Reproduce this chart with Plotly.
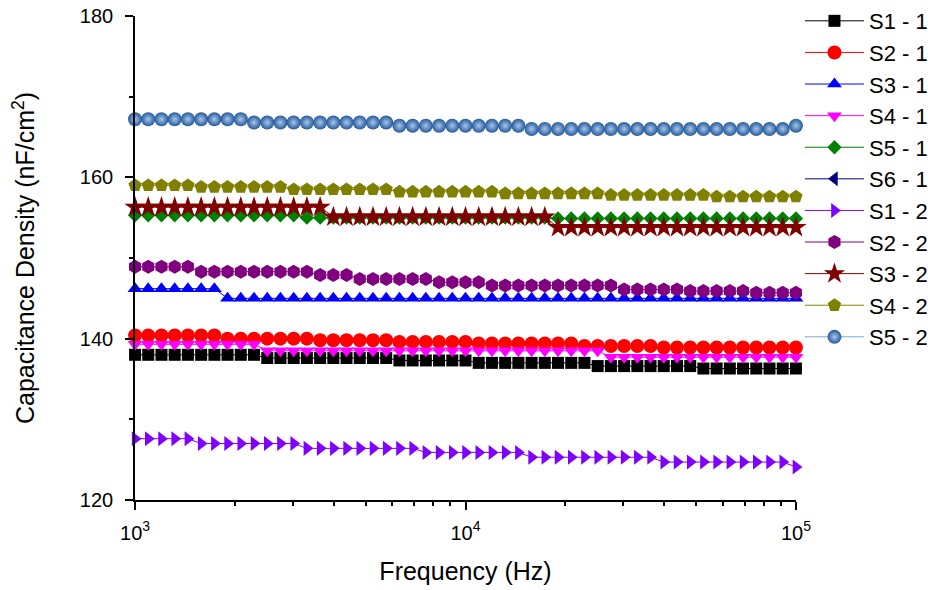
import plotly.graph_objects as go

# Frequency sweep (Hz)
freq = [1000, 1096, 1202, 1318, 1445, 1585, 1738, 1905, 2089, 2291,
        2512, 2754, 3020, 3311, 3631, 3981, 4365, 4786, 5248, 5754,
        6310, 6918, 7586, 8318, 9120, 10000, 10965, 12023, 13183, 14454,
        15849, 17378, 19055, 20893, 22909, 25119, 27542, 30200, 33113, 36308,
        39811, 43652, 47863, 52481, 57544, 63096, 69183, 75858, 83176, 91201,
        100000]

s1_1 = [138.0, 138.0, 138.0, 138.0, 138.0, 138.0, 138.0, 138.0, 138.0, 138.0,
        137.6, 137.6, 137.6, 137.6, 137.6, 137.6, 137.6, 137.6, 137.6, 137.6,
        137.3, 137.3, 137.3, 137.3, 137.3, 137.3, 137.0, 137.0, 137.0, 137.0,
        137.0, 137.0, 137.0, 137.0, 137.0, 136.6, 136.6, 136.6, 136.6, 136.6,
        136.6, 136.6, 136.6, 136.3, 136.3, 136.3, 136.3, 136.3, 136.3, 136.3,
        136.3]
s2_1 = [140.4, 140.4, 140.4, 140.4, 140.4, 140.4, 140.4, 140.0, 140.0, 140.0,
        140.0, 140.0, 140.0, 140.0, 139.8, 139.8, 139.8, 139.8, 139.8, 139.8,
        139.6, 139.6, 139.6, 139.6, 139.6, 139.6, 139.4, 139.4, 139.4, 139.4,
        139.4, 139.4, 139.4, 139.4, 139.1, 139.1, 139.1, 139.1, 139.1, 139.1,
        138.9, 138.9, 138.9, 138.9, 138.9, 138.9, 138.9, 138.9, 138.9, 138.9,
        138.9]
s3_1 = [146.2, 146.2, 146.2, 146.2, 146.2, 146.2, 146.2, 145.0, 145.0, 145.0,
        145.0, 145.0, 145.0, 145.0, 145.0, 145.0, 145.0, 145.0, 145.0, 145.0,
        145.0, 145.0, 145.0, 145.0, 145.0, 145.0, 145.0, 145.0, 145.0, 145.0,
        145.0, 145.0, 145.0, 145.0, 145.0, 145.0, 145.0, 145.0, 145.0, 145.0,
        145.0, 145.0, 145.0, 145.0, 145.0, 145.0, 145.0, 145.0, 145.0, 145.0,
        145.0]
s4_1 = [139.3, 139.3, 139.3, 139.3, 139.3, 139.3, 139.3, 139.3, 139.3, 139.3,
        138.5, 138.5, 138.5, 138.5, 138.5, 138.5, 138.5, 138.5, 138.5, 138.5,
        138.5, 138.5, 138.5, 138.5, 138.5, 138.5, 138.5, 138.5, 138.5, 138.5,
        138.5, 138.5, 138.5, 138.5, 138.5, 138.5, 137.7, 137.7, 137.7, 137.7,
        137.7, 137.7, 137.7, 137.7, 137.7, 137.7, 137.7, 137.7, 137.7, 137.7,
        137.7]
s5_1 = [155.3, 155.3, 155.3, 155.3, 155.3, 155.3, 155.3, 155.3, 155.3, 155.3,
        155.3, 155.3, 155.3, 155.0, 155.0, 155.0, 155.0, 155.0, 155.0, 155.0,
        155.0, 155.0, 155.0, 155.0, 155.0, 155.0, 155.0, 155.0, 155.0, 155.0,
        155.0, 155.0, 154.9, 154.9, 154.9, 154.9, 154.9, 154.9, 154.9, 154.9,
        154.9, 154.9, 154.9, 154.9, 154.9, 154.9, 154.9, 154.9, 154.9, 154.9,
        154.9]
s6_1 = [None]  # listed in the legend, no visible data
s1_2 = [127.6, 127.6, 127.6, 127.6, 127.6, 127.0, 127.0, 127.0, 127.0, 127.0,
        127.0, 127.0, 127.0, 126.4, 126.4, 126.4, 126.4, 126.4, 126.4, 126.4,
        126.4, 126.4, 125.9, 125.9, 125.9, 125.9, 125.9, 125.9, 125.9, 125.9,
        125.3, 125.3, 125.3, 125.3, 125.3, 125.3, 125.3, 125.3, 125.3, 125.3,
        124.7, 124.7, 124.7, 124.7, 124.7, 124.7, 124.7, 124.7, 124.7, 124.7,
        124.1]
s2_2 = [148.9, 148.9, 148.9, 148.9, 148.9, 148.3, 148.3, 148.3, 148.3, 148.3,
        148.3, 148.3, 148.3, 148.3, 147.9, 147.9, 147.9, 147.4, 147.4, 147.4,
        147.4, 147.4, 147.4, 147.0, 147.0, 147.0, 147.0, 146.6, 146.6, 146.6,
        146.6, 146.6, 146.6, 146.6, 146.6, 146.6, 146.6, 146.1, 146.1, 146.1,
        146.1, 146.1, 145.9, 145.9, 145.9, 145.9, 145.9, 145.7, 145.7, 145.7,
        145.7]
s3_2 = [156.3, 156.3, 156.3, 156.3, 156.3, 156.3, 156.3, 156.3, 156.3, 156.3,
        156.3, 156.3, 156.3, 156.3, 156.3, 155.1, 155.1, 155.1, 155.1, 155.1,
        155.1, 155.1, 155.1, 155.1, 155.1, 155.1, 155.1, 155.1, 155.1, 155.1,
        155.1, 155.1, 153.8, 153.8, 153.8, 153.8, 153.8, 153.8, 153.8, 153.8,
        153.8, 153.8, 153.8, 153.8, 153.8, 153.8, 153.8, 153.8, 153.8, 153.8,
        153.8]
s4_2 = [159.0, 159.0, 159.0, 159.0, 159.0, 158.8, 158.8, 158.8, 158.8, 158.8,
        158.8, 158.8, 158.5, 158.5, 158.5, 158.5, 158.5, 158.5, 158.5, 158.5,
        158.2, 158.2, 158.2, 158.2, 158.2, 158.2, 158.2, 158.2, 158.0, 158.0,
        158.0, 158.0, 158.0, 158.0, 158.0, 158.0, 157.8, 157.8, 157.8, 157.8,
        157.8, 157.8, 157.8, 157.8, 157.6, 157.6, 157.6, 157.6, 157.6, 157.6,
        157.6]
s5_2 = [167.2, 167.2, 167.2, 167.2, 167.2, 167.2, 167.2, 167.2, 167.2, 166.8,
        166.8, 166.8, 166.8, 166.8, 166.8, 166.8, 166.8, 166.8, 166.8, 166.8,
        166.4, 166.4, 166.4, 166.4, 166.4, 166.4, 166.4, 166.4, 166.4, 166.4,
        166.0, 166.0, 166.0, 166.0, 166.0, 166.0, 166.0, 166.0, 166.0, 166.0,
        166.0, 166.0, 166.0, 166.0, 166.0, 166.0, 166.0, 166.0, 166.0, 166.0,
        166.4]

names = ["S1 - 1", "S2 - 1", "S3 - 1", "S4 - 1", "S5 - 1", "S6 - 1",
         "S1 - 2", "S2 - 2", "S3 - 2", "S4 - 2", "S5 - 2"]
series = [s1_1, s2_1, s3_1, s4_1, s5_1, s6_1, s1_2, s2_2, s3_2, s4_2, s5_2]
colors = ["#000000", "#ff0000", "#0000ff", "#ff00ff", "#008000", "#000080",
          "#8000ff", "#800080", "#800000", "#808000", "#245a9c"]
line_colors = ["#000000", "#ff0000", "#0000ff", "#ff00ff", "#008000", "#000080",
               "#8000ff", "#800080", "#800000", "#808000", "#7aa6d6"]
symbols = ["square", "circle", "triangle-up", "triangle-down", "diamond",
           "triangle-left", "triangle-right", "hexagon", "star", "pentagon",
           "circle"]
sizes = [12, 14, 13, 13, 11, 13, 13, 14, 16, 14, 14]

yticks = [120, 140, 160, 180]
yminor = [130, 150, 170]
xticks = [1000, 10000, 100000]
xticktext = ["10<sup>3</sup>", "10<sup>4</sup>", "10<sup>5</sup>"]
xminor = [2000, 3000, 4000, 5000, 6000, 7000, 8000, 9000,
          20000, 30000, 40000, 50000, 60000, 70000, 80000, 90000]
xrange_log = [2.9998, 5.0002]

FONT = "Arial, Liberation Sans, sans-serif"

fig = go.Figure()
for i, (nm, ys) in enumerate(zip(names, series)):
    marker = dict(symbol=symbols[i], size=sizes[i], color=colors[i],
                  line=dict(width=0))
    if i == len(names) - 1:
        marker["gradient"] = dict(type="radial", color="#a8c6ea")
    fig.add_trace(go.Scatter(
        x=freq[:len(ys)], y=ys, name=nm, mode="lines+markers",
        line=dict(color=line_colors[i], width=1),
        marker=marker, cliponaxis=False))

axis_common = dict(showline=True, linecolor="black", linewidth=1.6,
                   showgrid=False, zeroline=False, tickcolor="black",
                   tickwidth=1.6, automargin=False)

fig.update_layout(
    width=943, height=590,
    margin=dict(l=135, r=147, t=16, b=90, autoexpand=False),
    paper_bgcolor="white", plot_bgcolor="white",
    font=dict(family=FONT, size=20, color="black"),
    showlegend=True,
    legend=dict(x=1.006, y=1.033, xanchor="left", maxheight=560,
                yanchor="top", font=dict(family=FONT, size=22), itemwidth=59,
                traceorder="normal", bgcolor="rgba(0,0,0,0)",
                tracegroupgap=0),
    xaxis=dict(type="log", range=xrange_log, tickmode="array", tickvals=xticks,
               ticktext=xticktext, ticks="outside", ticklen=8,
               ticklabelstandoff=6,
               minor=dict(tickmode="array", tickvals=xminor, ticks="outside",
                          ticklen=4, tickcolor="black", tickwidth=1.6),
               title=dict(text="Frequency (Hz)", font=dict(size=25),
                          standoff=20),
               tickfont=dict(size=20), **axis_common),
    yaxis=dict(range=[120, 180], tickmode="array", tickvals=yticks,
               ticks="outside", ticklen=8, ticklabelstandoff=8,
               minor=dict(tickmode="array", tickvals=yminor, ticks="outside",
                          ticklen=4, tickcolor="black", tickwidth=1.6),
               title=dict(text="Capacitance Density (nF/cm<sup>2</sup>)",
                          font=dict(size=25), standoff=38),
               tickfont=dict(size=20), **axis_common),
    xaxis2=dict(type="log", range=xrange_log, overlaying="x", side="top",
                tickmode="array", tickvals=xticks, ticks="inside", ticklen=6,
                showticklabels=False,
                minor=dict(tickmode="array", tickvals=xminor, ticks="inside",
                           ticklen=3, tickcolor="black", tickwidth=1.6),
                **axis_common),
    yaxis2=dict(range=[120, 180], overlaying="y", side="right",
                tickmode="array", tickvals=yticks, ticks="inside", ticklen=6,
                showticklabels=False,
                minor=dict(tickmode="array", tickvals=yminor, ticks="inside",
                           ticklen=3, tickcolor="black", tickwidth=1.6),
                **axis_common),
)

fig.write_html("out.html")
